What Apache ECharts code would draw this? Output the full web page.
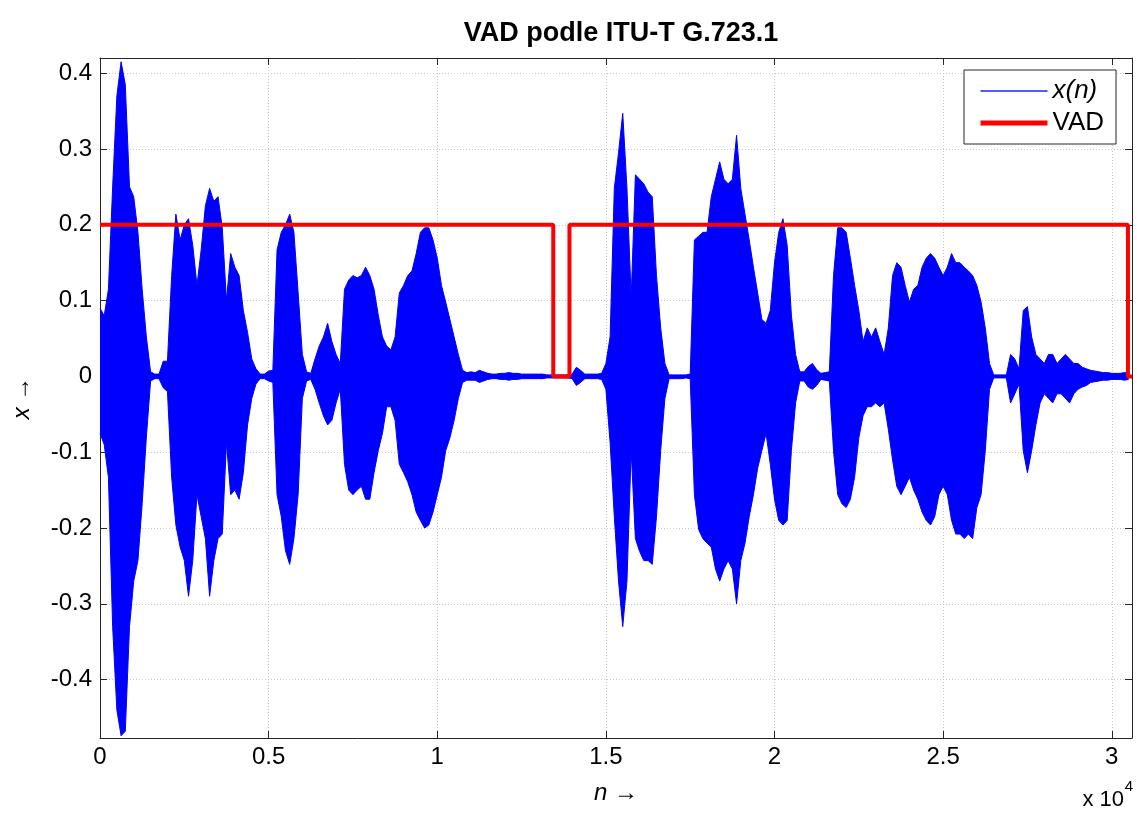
<!DOCTYPE html>
<html lang="cs">

<head>
  <meta charset="UTF-8" />
  <title>VAD podle ITU-T G.723.1</title>
  <script src="https://cdn.jsdelivr.net/npm/echarts@6/dist/echarts.min.js"></script>
  <style>
    html, body { margin: 0; padding: 0; background: #fff; }
    #main { width: 1137px; height: 817px; }
  </style>
</head>

<body>
  <div id="main"></div>

  <script type="text/javascript">
    // envelope of x(n), one value every 125 samples
    var envStep = 125;
    var upperEnv = [
      0.09, 0.08, 0.115, 0.25, 0.37, 0.415, 0.385, 0.25, 0.237, 0.19,           // 0
      0.115, 0.052, 0.006, 0.003, 0.003, 0.02, 0.02, 0.133, 0.214, 0.18,        // 10
      0.2, 0.208, 0.173, 0.12, 0.167, 0.225, 0.248, 0.231, 0.237, 0.196,        // 20
      0.1, 0.162, 0.144, 0.133, 0.087, 0.058, 0.023, 0.01, 0.003, 0.003,        // 30
      0.007, 0.008, 0.167, 0.19, 0.2, 0.214, 0.19, 0.11, 0.029, 0.006,          // 40
      0.004, 0.023, 0.04, 0.052, 0.07, 0.046, 0.029, 0.017, 0.115, 0.127,       // 50
      0.133, 0.13, 0.133, 0.144, 0.133, 0.115, 0.081, 0.052, 0.04, 0.035,       // 60
      0.052, 0.11, 0.12, 0.133, 0.139, 0.162, 0.19, 0.196, 0.196, 0.18,         // 70
      0.156, 0.12, 0.098, 0.075, 0.052, 0.029, 0.008, 0.005, 0.006, 0.005,      // 80
      0.008, 0.006, 0.004, 0.003, 0.003, 0.004, 0.004, 0.005, 0.004, 0.004,     // 90
      0.003, 0.003, 0.003, 0.003, 0.003, 0.003, 0.002, 0.002, 0.002, 0.002,     // 100
      0.002, 0.002, 0.003, 0.012, 0.008, 0.003, 0.003, 0.003, 0.003, 0.004,     // 110
      0.017, 0.052, 0.248, 0.295, 0.347, 0.248, 0.104, 0.266, 0.26, 0.254,      // 120
      0.243, 0.237, 0.133, 0.064, 0.017, 0.002, 0.002, 0.002, 0.002, 0.002,     // 130
      0.003, 0.18, 0.185, 0.19, 0.19, 0.237, 0.26, 0.283, 0.26, 0.254,          // 140
      0.26, 0.318, 0.248, 0.214, 0.18, 0.144, 0.11, 0.075, 0.07, 0.087,         // 150
      0.15, 0.19, 0.208, 0.173, 0.081, 0.029, 0.006, 0.006, 0.013, 0.017,       // 160
      0.009, 0.004, 0.005, 0.006, 0.133, 0.196, 0.196, 0.19, 0.156, 0.12,       // 170
      0.087, 0.046, 0.064, 0.052, 0.064, 0.046, 0.029, 0.064, 0.133, 0.15,      // 180
      0.144, 0.12, 0.098, 0.115, 0.12, 0.144, 0.156, 0.162, 0.156, 0.144,       // 190
      0.133, 0.144, 0.162, 0.15, 0.15, 0.144, 0.139, 0.133, 0.12, 0.098,        // 200
      0.064, 0.017, 0.002, 0.002, 0.002, 0.002, 0.029, 0.023, 0.01, 0.087,      // 210
      0.092, 0.052, 0.029, 0.023, 0.017, 0.029, 0.029, 0.017, 0.023, 0.029,     // 220
      0.023, 0.017, 0.017, 0.012, 0.01, 0.008, 0.007, 0.006, 0.005, 0.005,      // 230
      0.004, 0.004, 0.004, 0.005, 0.004                                         // 240
    ];
    var lowerEnv = [
      -0.075, -0.09, -0.133, -0.33, -0.44, -0.474, -0.468, -0.33, -0.27, -0.243,
      -0.168, -0.08, -0.006, -0.003, -0.003, -0.015, -0.02, -0.133, -0.196, -0.225,
      -0.243, -0.29, -0.243, -0.156, -0.185, -0.214, -0.29, -0.243, -0.214, -0.208,
      -0.087, -0.156, -0.15, -0.162, -0.127, -0.064, -0.029, -0.01, -0.003, -0.003,
      -0.006, -0.008, -0.156, -0.185, -0.23, -0.248, -0.214, -0.156, -0.029, -0.006,
      -0.004, -0.017, -0.035, -0.052, -0.064, -0.058, -0.035, -0.017, -0.116, -0.15,
      -0.156, -0.15, -0.145, -0.162, -0.162, -0.127, -0.098, -0.075, -0.04, -0.04,
      -0.058, -0.116, -0.127, -0.139, -0.156, -0.179, -0.19, -0.2, -0.196, -0.179,
      -0.156, -0.133, -0.098, -0.081, -0.058, -0.029, -0.008, -0.005, -0.005, -0.005,
      -0.008, -0.006, -0.004, -0.003, -0.003, -0.004, -0.004, -0.005, -0.004, -0.004,
      -0.003, -0.003, -0.003, -0.003, -0.003, -0.003, -0.002, -0.002, -0.002, -0.002,
      -0.002, -0.002, -0.003, -0.012, -0.008, -0.003, -0.003, -0.003, -0.003, -0.004,
      -0.017, -0.087, -0.185, -0.27, -0.33, -0.27, -0.098, -0.214, -0.231, -0.243,
      -0.243, -0.248, -0.185, -0.098, -0.029, -0.003, -0.003, -0.003, -0.003, -0.002,
      -0.003, -0.156, -0.202, -0.214, -0.22, -0.225, -0.254, -0.27, -0.254, -0.243,
      -0.254, -0.3, -0.243, -0.22, -0.185, -0.156, -0.121, -0.098, -0.075, -0.116,
      -0.162, -0.19, -0.196, -0.19, -0.098, -0.035, -0.006, -0.006, -0.014, -0.017,
      -0.012, -0.004, -0.005, -0.006, -0.098, -0.156, -0.168, -0.173, -0.162, -0.133,
      -0.081, -0.052, -0.04, -0.04, -0.035, -0.04, -0.035, -0.07, -0.11, -0.145,
      -0.156, -0.145, -0.133, -0.15, -0.162, -0.179, -0.19, -0.196, -0.185, -0.156,
      -0.145, -0.156, -0.19, -0.208, -0.208, -0.214, -0.208, -0.214, -0.173, -0.156,
      -0.098, -0.017, -0.002, -0.002, -0.002, -0.002, -0.035, -0.023, -0.01, -0.098,
      -0.127, -0.098, -0.064, -0.035, -0.023, -0.029, -0.035, -0.023, -0.023, -0.029,
      -0.035, -0.023, -0.017, -0.014, -0.012, -0.008, -0.007, -0.006, -0.005, -0.005,
      -0.004, -0.004, -0.004, -0.005, -0.004
    ];

    // VAD decision: breakpoints (sample index) and the value from there on
    var vadN = [0, 13440, 13920, 30480, 30600];
    var vadVal = [0.2, 0, 0.2, 0, 0];

    var xMax = 30600;
    var yMin = -0.477;
    var yMax = 0.42;

    var fontName = "'Liberation Sans', Arial, Helvetica, sans-serif";

    var upperData = upperEnv.map(function (v, i) { return [i * envStep, v]; });
    var lowerData = lowerEnv.map(function (v, i) { return [i * envStep, v]; });
    var vadData = vadN.map(function (n, i) { return [n, vadVal[i]]; });

    var myChart = echarts.init(document.getElementById('main'));

    function gridLine() {
      return { show: true, lineStyle: { color: '#c8c8c8', type: [1, 2], width: 1 } };
    }
    function boxLine() {
      return { show: true, onZero: false, lineStyle: { color: '#262626', width: 1 } };
    }
    function tickIn() {
      return { show: true, inside: true, length: 7, lineStyle: { color: '#262626', width: 1 } };
    }
    var italic = { fontFamily: fontName, fontSize: 24, fontStyle: 'italic', color: '#000' };

    var option = {
      animation: false,
      backgroundColor: '#fff',
      title: {
        text: 'VAD podle ITU-T G.723.1',
        left: 616,
        textAlign: 'center',
        top: 15,
        textStyle: { fontFamily: fontName, fontSize: 27, fontWeight: 'bold', color: '#000' }
      },
      grid: { left: 100, right: 5, top: 58, bottom: 79, containLabel: false },
      legend: {
        left: 964,
        top: 70,
        orient: 'vertical',
        itemWidth: 67,
        itemHeight: 20,
        itemGap: 6,
        padding: [8, 12, 8, 14],
        backgroundColor: '#fff',
        borderColor: '#262626',
        borderWidth: 1,
        itemStyle: { opacity: 0 },
        data: [
          { name: 'x(n)', lineStyle: { width: 1.5, color: '#2020ff' } },
          { name: 'VAD', lineStyle: { width: 5, color: '#ff0000' } }
        ],
        formatter: function (name) {
          return name === 'x(n)' ? '{i|x(n)}' : name;
        },
        textStyle: {
          fontFamily: fontName, fontSize: 26, color: '#000',
          rich: { i: { fontFamily: fontName, fontSize: 26, fontStyle: 'italic', color: '#000' } }
        }
      },
      xAxis: [
        {
          type: 'value',
          min: 0,
          max: xMax,
          interval: 5000,
          name: '{i|n} \u2192',
          nameLocation: 'middle',
          nameGap: 43,
          nameTextStyle: { fontFamily: fontName, fontSize: 24, color: '#000', rich: { i: italic } },
          axisLine: boxLine(),
          axisTick: tickIn(),
          splitLine: gridLine(),
          axisLabel: {
            margin: 7,
            showMaxLabel: false,
            fontFamily: fontName,
            fontSize: 24,
            color: '#000',
            formatter: function (v) { return String(v / 10000); }
          }
        },
        {
          type: 'value',
          position: 'top',
          min: 0,
          max: xMax,
          interval: 5000,
          axisLine: boxLine(),
          axisTick: tickIn(),
          axisLabel: { show: false },
          splitLine: { show: false }
        }
      ],
      yAxis: [
        {
          type: 'value',
          min: yMin,
          max: yMax,
          splitNumber: 9,
          name: '{i|x} \u2192',
          nameLocation: 'middle',
          nameGap: 66,
          nameTextStyle: { fontFamily: fontName, fontSize: 24, color: '#000', rich: { i: italic } },
          axisLine: boxLine(),
          axisTick: tickIn(),
          splitLine: gridLine(),
          axisLabel: {
            margin: 8,
            showMinLabel: false,
            showMaxLabel: false,
            fontFamily: fontName,
            fontSize: 24,
            color: '#000',
            formatter: function (v) { return String(Math.round(v * 10) / 10); }
          }
        },
        {
          type: 'value',
          position: 'right',
          min: yMin,
          max: yMax,
          splitNumber: 9,
          axisLine: boxLine(),
          axisTick: tickIn(),
          axisLabel: { show: false },
          splitLine: { show: false }
        }
      ],
      graphic: [
        {
          type: 'text',
          right: 13,
          top: 789,
          style: { text: 'x 10', fontFamily: fontName, fontSize: 22, fill: '#000' }
        },
        {
          type: 'text',
          right: 4,
          top: 779,
          style: { text: '4', fontFamily: fontName, fontSize: 15, fill: '#000' }
        }
      ],
      series: [
        {
          name: 'x(n)',
          type: 'line',
          data: upperData,
          symbol: 'none',
          lineStyle: { color: '#0000ff', width: 1 },
          itemStyle: { color: '#0000ff' },
          // small overlap of the two halves so no seam shows along zero
          areaStyle: { color: '#0000ff', opacity: 1, origin: -0.0012 },
          z: 2
        },
        {
          name: 'x(n)',
          type: 'line',
          data: lowerData,
          symbol: 'none',
          lineStyle: { color: '#0000ff', width: 1 },
          itemStyle: { color: '#0000ff' },
          areaStyle: { color: '#0000ff', opacity: 1, origin: 0.0012 },
          z: 2
        },
        {
          name: 'VAD',
          type: 'line',
          data: vadData,
          step: 'end',
          symbol: 'none',
          lineStyle: { color: '#ff0000', width: 4 },
          itemStyle: { color: '#ff0000' },
          z: 3
        }
      ]
    };

    myChart.setOption(option);
  </script>
</body>

</html>
